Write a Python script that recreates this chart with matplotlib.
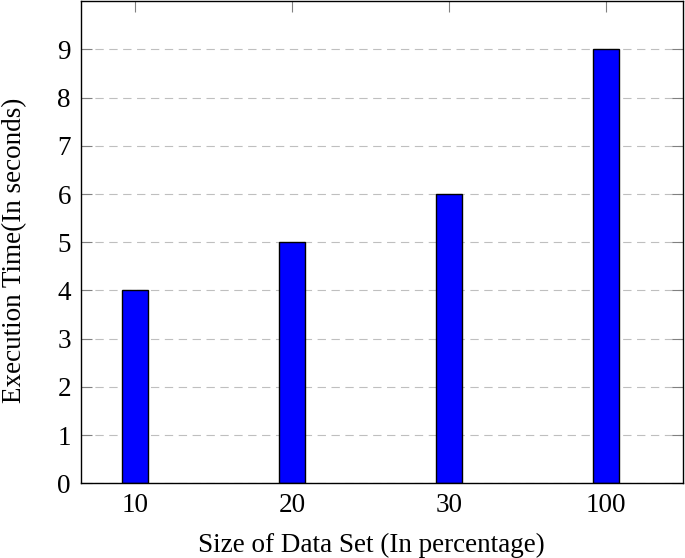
import matplotlib
matplotlib.use("Agg")
import matplotlib.pyplot as plt

sizes = ["10", "20", "30", "100"]
exec_time = [4, 5, 6, 9]
y_ticks = list(range(0, 10))

plt.rcParams["font.family"] = ["Liberation Serif", "DejaVu Serif"]
plt.rcParams["mathtext.fontset"] = "stix"

fig = plt.figure(figsize=(6.85, 5.58), dpi=100)
ax = fig.add_axes([0.1178, 0.1337, 0.997 - 0.1178, 0.998 - 0.1337])

xs = list(range(len(sizes)))
ax.bar(xs, exec_time, width=0.166, color="#0000FF", edgecolor="black",
       linewidth=1.0, zorder=3)

ax.set_xlim(-0.348, 3.49)
ax.set_ylim(0, 10)
ax.set_xticks(xs)
ax.set_xticklabels(sizes)
ax.set_yticks(y_ticks)

ax.yaxis.grid(True, color="#bfbfbf", linestyle=(0, (7.5, 5)), linewidth=0.8,
              zorder=0)
ax.set_axisbelow(True)

ax.tick_params(axis="both", direction="in", length=8, width=0.8,
               color="#808080", labelsize=19.5, pad=7)
ax.tick_params(axis="x", top=True, bottom=True)
ax.tick_params(axis="y", left=True, right=True)

for s in ax.spines.values():
    s.set_linewidth(1.0)
    s.set_zorder(4)

ax.set_xlabel("Size of Data Set (In percentage)", fontsize=19.5, labelpad=10.5)
ax.set_ylabel("Execution Time(In seconds)", fontsize=19.5, labelpad=22)
# labels sit slightly off-centre in the original
ax.xaxis.label.set_x(0.482)
ax.yaxis.label.set_y(0.484)

fig.savefig("out.png", dpi=100)
